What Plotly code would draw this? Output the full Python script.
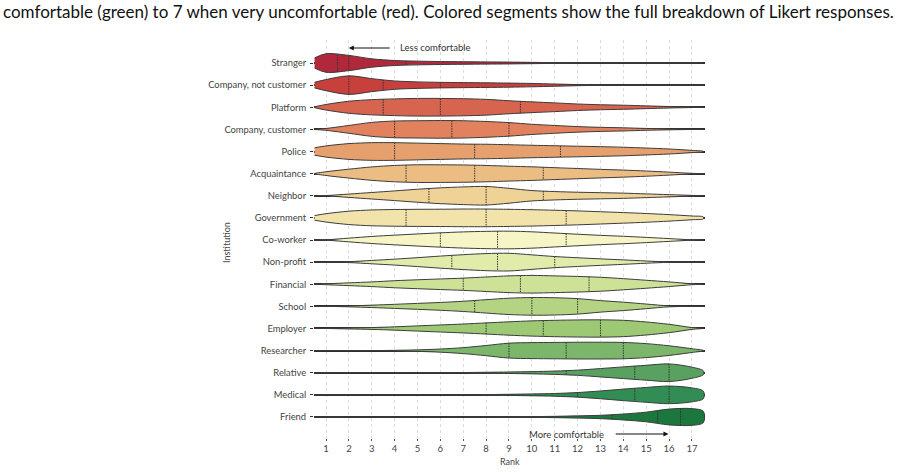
import numpy as np
import plotly.graph_objects as go

institutions = ["Stranger", "Company, not customer", "Platform", "Company, customer", "Police",
                "Acquaintance", "Neighbor", "Government", "Co-worker", "Non-profit", "Financial",
                "School", "Employer", "Researcher", "Relative", "Medical", "Friend"]

# rank positions at which the violin half-widths were read
rank_grid = [0.5, 1, 2, 3, 4, 5, 6, 7, 8, 9, 10, 11, 12, 13, 14, 15, 16, 17, 17.5]

# relative half-width of each violin at rank_grid (1 = widest)
w_stranger  = [0.55, 1.00, 0.82, 0.45, 0.27, 0.20, 0.16, 0.14, 0.12, 0.10, 0.07, 0.04, 0.02, 0, 0, 0, 0, 0, 0]
w_comp_not  = [0.30, 0.60, 1.00, 0.70, 0.45, 0.35, 0.30, 0.27, 0.25, 0.22, 0.18, 0.12, 0.06, 0.02, 0, 0, 0, 0, 0]
w_platform  = [0.05, 0.30, 0.65, 0.82, 0.90, 0.95, 0.95, 0.92, 0.85, 0.70, 0.58, 0.47, 0.35, 0.27, 0.22, 0.15, 0.08, 0.03, 0]
w_comp_cust = [0, 0.10, 0.42, 0.75, 0.90, 0.93, 0.95, 0.93, 0.85, 0.73, 0.55, 0.42, 0.30, 0.22, 0.17, 0.10, 0.05, 0.01, 0]
w_police    = [0.40, 0.60, 0.85, 0.95, 0.95, 0.90, 0.85, 0.80, 0.78, 0.73, 0.67, 0.62, 0.57, 0.52, 0.46, 0.37, 0.27, 0.12, 0.02]
w_acquaint  = [0, 0.20, 0.48, 0.72, 0.88, 0.95, 0.95, 0.93, 0.88, 0.80, 0.73, 0.64, 0.55, 0.46, 0.38, 0.28, 0.16, 0.03, 0]
w_neighbor  = [0, 0.02, 0.18, 0.35, 0.52, 0.70, 0.85, 0.95, 1.00, 0.80, 0.56, 0.45, 0.38, 0.33, 0.28, 0.20, 0.12, 0.04, 0]
w_govt      = [0.25, 0.45, 0.72, 0.85, 0.90, 0.92, 0.93, 0.95, 0.95, 0.92, 0.88, 0.82, 0.75, 0.66, 0.57, 0.47, 0.35, 0.20, 0.10]
w_coworker  = [0, 0.02, 0.20, 0.38, 0.52, 0.65, 0.77, 0.87, 0.93, 0.95, 0.88, 0.75, 0.62, 0.50, 0.40, 0.28, 0.15, 0.02, 0]
w_nonprofit = [0, 0, 0.05, 0.18, 0.32, 0.48, 0.65, 0.80, 0.92, 0.95, 0.78, 0.60, 0.47, 0.35, 0.24, 0.12, 0.02, 0, 0]
w_financial = [0, 0.05, 0.15, 0.25, 0.38, 0.48, 0.57, 0.66, 0.78, 0.90, 0.95, 0.90, 0.84, 0.75, 0.60, 0.43, 0.25, 0.05, 0]
w_school    = [0, 0, 0.05, 0.13, 0.22, 0.32, 0.42, 0.55, 0.72, 0.88, 0.95, 0.93, 0.83, 0.62, 0.45, 0.25, 0.05, 0, 0]
w_employer  = [0, 0, 0.05, 0.10, 0.18, 0.28, 0.38, 0.48, 0.60, 0.72, 0.82, 0.88, 0.92, 0.93, 0.88, 0.70, 0.45, 0.10, 0]
w_research  = [0, 0, 0, 0, 0.03, 0.08, 0.17, 0.32, 0.55, 0.80, 0.86, 0.88, 0.90, 0.90, 0.88, 0.75, 0.52, 0.20, 0.02]
w_relative  = [0, 0, 0, 0, 0, 0, 0, 0.02, 0.05, 0.08, 0.12, 0.18, 0.28, 0.45, 0.63, 0.80, 0.95, 0.60, 0.20]
w_medical   = [0, 0, 0, 0, 0, 0, 0, 0, 0.03, 0.06, 0.10, 0.15, 0.25, 0.42, 0.62, 0.80, 0.95, 0.75, 0.40]
w_friend    = [0, 0, 0, 0, 0, 0, 0, 0, 0, 0.02, 0.04, 0.07, 0.12, 0.18, 0.32, 0.52, 0.85, 0.90, 0.60]

widths = [w_stranger, w_comp_not, w_platform, w_comp_cust, w_police, w_acquaint, w_neighbor,
          w_govt, w_coworker, w_nonprofit, w_financial, w_school, w_employer, w_research,
          w_relative, w_medical, w_friend]

# quartiles (Q1, median, Q3) of ranks
quartiles = [[1.5, 2, 4.5], [2, 3.5, 6], [3.5, 6, 9.5], [4, 6.5, 9], [4, 7.5, 11.25],
             [4.5, 7.5, 10.5], [5.5, 8, 10.5], [4.5, 8, 11.5], [6, 8.5, 11.5], [6.5, 8.5, 11],
             [7, 9.5, 12.5], [7.5, 10, 12], [8, 10.5, 13], [9, 11.5, 14], [11.5, 14.5, 16],
             [12, 14.5, 16], [13.5, 15.5, 16.5]]

colors = ["#b0283a", "#c8403c", "#d6644e", "#e2815e", "#e6a06d", "#ebbd83", "#efd296",
          "#f2e3ab", "#f6f5c6", "#e1ebaa", "#cde296", "#b5d483", "#9dc874", "#7bb66b",
          "#58a160", "#318d53", "#1c773f"]

rank_ticks = list(range(1, 18))

H = 0.42
fig = go.Figure()
g = np.array(rank_grid, dtype=float)
for i, (name, w, c) in enumerate(zip(institutions, widths, colors)):
    w = np.array(w, dtype=float)
    xs = np.concatenate([g, g[::-1]])
    ys = np.concatenate([i - w * H, (i + w * H)[::-1]])
    fig.add_trace(go.Scatter(x=xs, y=ys, mode="lines", fill="toself", fillcolor=c,
                             line=dict(color="#3c3c3c", width=1, shape="spline", smoothing=0.9),
                             hoverinfo="skip", showlegend=False))

qx, qy = [], []
for i, (w, qs) in enumerate(zip(widths, quartiles)):
    for q in qs:
        h = np.interp(q, g, np.array(w, dtype=float)) * H
        qx += [q, q, None]
        qy += [i - h, i + h, None]
fig.add_trace(go.Scatter(x=qx, y=qy, mode="lines", line=dict(color="#333", width=1, dash="1.5px,1px"),
                         hoverinfo="skip", showlegend=False))

font = "Lato, 'Open Sans', sans-serif"
fig.update_layout(
    width=909, height=472, margin=dict(l=314, r=204, t=40, b=34),
    paper_bgcolor="white", plot_bgcolor="white",
    font=dict(family=font, size=9, color="#444"),
    xaxis=dict(range=[0.475, 17.57], tickvals=rank_ticks, ticktext=[str(t) for t in rank_ticks],
               showgrid=True, gridcolor="#dcdcdc", griddash="dot", gridwidth=1,
               zeroline=False, showline=False, ticks="outside", ticklen=2, tickcolor="#555",
               tickfont=dict(size=9.5, color="#444")),
    yaxis=dict(range=[16.95, -1.04], tickvals=list(range(len(institutions))), ticktext=institutions,
               showgrid=True, gridcolor="#2e2e2e", gridwidth=1.6, zeroline=False, showline=False,
               ticks="outside", ticklen=3, tickcolor="#333", ticklabelstandoff=2,
               tickfont=dict(size=9.4, color="#444")),
)

ph = 472 - 40 - 34
anns = [
    dict(text="comfortable (green) to 7 when very uncomfortable (red). Colored segments show the full breakdown of Likert responses.",
         xref="paper", yref="paper", x=(1 - 314) / 391, y=1 + (40 - 12) / ph, xanchor="left", yanchor="middle",
         showarrow=False, font=dict(family=font, size=17, color="#111")),
    dict(text="Institution", xref="paper", yref="paper", x=(226 - 314) / 391, y=1 - (243 - 40) / ph,
         xanchor="center", yanchor="middle",
         textangle=-90, showarrow=False, font=dict(size=9, color="#444")),
    dict(text="Rank", xref="paper", yref="paper", x=0.5, y=1 - (461 - 40) / ph, yanchor="middle",
         showarrow=False, font=dict(size=9, color="#444")),
    dict(text="Less comfortable", xref="x", yref="y", x=4.15, y=-0.68, xanchor="left", yanchor="middle",
         showarrow=False, font=dict(size=9.5, color="#333")),
    dict(text="", xref="x", yref="y", x=2.0, y=-0.68, ax=3.85, ay=-0.68, axref="x", ayref="y",
         showarrow=True, arrowhead=2, arrowsize=0.9, arrowwidth=1.1, arrowcolor="#111"),
    dict(text="More comfortable", xref="x", yref="y", x=11.5, y=16.77, xanchor="center", yanchor="middle",
         showarrow=False, font=dict(size=9.5, color="#333")),
    dict(text="", xref="x", yref="y", x=15.97, y=16.77, ax=13.6, ay=16.77, axref="x", ayref="y",
         showarrow=True, arrowhead=2, arrowsize=0.9, arrowwidth=1.1, arrowcolor="#111"),
]
fig.update_layout(annotations=anns)
fig.write_html("out.html")
